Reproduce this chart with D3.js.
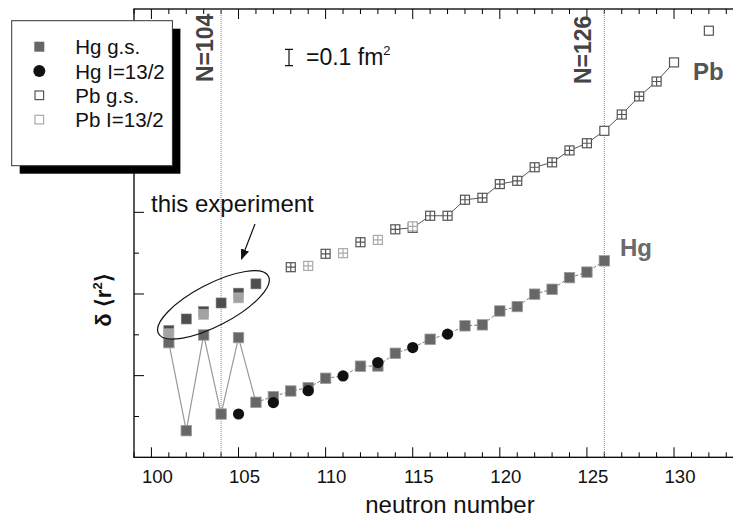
<!DOCTYPE html>
<meta charset="utf-8">
<head>
  <script src="https://d3js.org/d3.v7.min.js"></script>
  <style>
    body { margin: 0; background: #fff; }
    text { font-family: "Liberation Sans", Arial, sans-serif; }
  </style>
</head>
<body>
<div id="chart"></div>
<script>

// Hg ground states (gray squares)
var hgGsN  = [101,102,103,104,105,106,107,108,109,110,112,113,114,116,118,119,120,121,122,123,124,125,126];
var hgGsDr = [0.702,0.163,0.749,0.265,0.733,0.337,0.371,0.406,0.426,0.484,0.558,0.559,0.637,0.723,0.805,0.811,0.896,0.923,0.999,1.029,1.100,1.134,1.203];

// Hg I=13/2 isomers (black circles)
var hgIsoN  = [105,107,109,111,113,115,117];
var hgIsoDr = [0.265,0.335,0.408,0.498,0.580,0.672,0.754];

// Pb from this experiment (inside the ellipse)
var pbNewGsN  = [101,102,103,104,105,106];
var pbNewGsDr = [0.776,0.847,0.892,0.945,1.005,1.062];
var pbNewIsoN  = [101,103,105];
var pbNewIsoDr = [0.756,0.874,0.976];

// Pb ground states (open squares)
var pbGsN  = [108,110,112,114,115,116,117,118,119,120,121,122,123,124,125,126,127,128,129,130,132];
var pbGsDr = [1.164,1.246,1.317,1.396,1.405,1.479,1.479,1.577,1.589,1.673,1.693,1.776,1.806,1.879,1.923,1.999,2.099,2.210,2.301,2.418,2.612];
// Pb I=13/2 isomers (light open squares)
var pbIsoN  = [109,111,113,115];
var pbIsoDr = [1.172,1.250,1.331,1.414];
// Pb points drawn without inner error bars
var pbPlain = [126,130,132];

var xTicks = [100,105,110,115,120,125,130];

function zip(ns, vs) { return ns.map(function(n, i) { return {n: n, v: vs[i]}; }); }

var hgGs = zip(hgGsN, hgGsDr),
    hgIso = zip(hgIsoN, hgIsoDr),
    pbNewGs = zip(pbNewGsN, pbNewGsDr),
    pbNewIso = zip(pbNewIsoN, pbNewIsoDr),
    pbGs = zip(pbGsN, pbGsDr),
    pbIso = zip(pbIsoN, pbIsoDr);

var W = 733, H = 522;
var pLeft = 134, pTop = 9, pBottom = 457.3;

var svg = d3.select("#chart").append("svg")
  .attr("width", W).attr("height", H);

var x = d3.scaleLinear().domain([99, 134]).range([pLeft, pLeft + 35 * 17.42]);
var y = d3.scaleLinear().domain([0, 2.745]).range([pBottom, pTop]);

// frame
svg.append("rect")
  .attr("x", pLeft).attr("y", pTop)
  .attr("width", x(134) - pLeft).attr("height", pBottom - pTop)
  .attr("fill", "none").attr("stroke", "#000").attr("stroke-width", 1.3);

// x ticks bottom and top (inward)
var minorX = d3.range(99, 134);
svg.append("g").selectAll("line").data(minorX).join("line")
  .attr("x1", d => x(d)).attr("x2", d => x(d))
  .attr("y1", pBottom).attr("y2", d => pBottom - (d % 5 == 0 ? 10 : 5))
  .attr("stroke", "#000");
svg.append("g").selectAll("line").data(minorX).join("line")
  .attr("x1", d => x(d)).attr("x2", d => x(d))
  .attr("y1", pTop).attr("y2", d => pTop + (d % 5 == 0 ? 10 : 5))
  .attr("stroke", "#000");

svg.append("g").selectAll("text").data(xTicks).join("text")
  .attr("x", d => x(d) + 6).attr("y", 483)
  .attr("text-anchor", "middle")
  .attr("font-size", 18.6).attr("fill", "#111")
  .text(d => d);

// y ticks (no labels)
var yTickVals = d3.range(1, 11).map(d => d * 0.25);
svg.append("g").selectAll("line").data(yTickVals).join("line")
  .attr("x1", pLeft).attr("x2", (d, i) => pLeft + (i % 2 == 1 ? 10 : 5))
  .attr("y1", d => y(d)).attr("y2", d => y(d))
  .attr("stroke", "#000");

// shell closures
[104, 126].forEach(function(n) {
  svg.append("line")
    .attr("x1", x(n)).attr("x2", x(n))
    .attr("y1", pTop).attr("y2", pBottom)
    .attr("stroke", "#888").attr("stroke-width", 1)
    .attr("stroke-dasharray", "1,1");
});
svg.append("text")
  .attr("transform", "translate(" + (x(104) - 8.5) + ",82) rotate(-90)")
  .attr("font-size", 23).attr("font-weight", "bold").attr("fill", "#444")
  .text("N=104");
svg.append("text")
  .attr("transform", "translate(" + (x(126) - 13) + ",84) rotate(-90)")
  .attr("font-size", 23).attr("font-weight", "bold").attr("fill", "#444")
  .text("N=126");

// Hg line: g.s. where measured, else isomer
var hgLine = d3.range(101, 127).map(function(n) {
  var g = hgGs.find(d => d.n == n);
  var i = hgIso.find(d => d.n == n);
  return g || i;
}).filter(d => d);

var line = d3.line().x(d => x(d.n)).y(d => y(d.v));
svg.append("path").datum(hgLine.filter(d => d.n <= 106))
  .attr("d", line).attr("fill", "none")
  .attr("stroke", "#999").attr("stroke-width", 1.2);
svg.append("path").datum(hgLine.filter(d => d.n >= 106))
  .attr("d", line).attr("fill", "none")
  .attr("stroke", "#777").attr("stroke-width", 1)
  .attr("stroke-dasharray", "3,2");

// Pb line
svg.append("path").datum(pbGs.filter(d => d.n >= 114 && d.n <= 130))
  .attr("d", line).attr("fill", "none")
  .attr("stroke", "#555").attr("stroke-width", 1);

// Pb open squares
function pbSquares(data, color) {
  var g = svg.append("g").selectAll("g").data(data).join("g")
    .attr("transform", d => "translate(" + x(d.n) + "," + y(d.v) + ")");
  g.append("rect")
    .attr("x", -4.5).attr("y", -4.5).attr("width", 9).attr("height", 9)
    .attr("fill", "#fff").attr("stroke", color).attr("stroke-width", 1.2);
  g.filter(d => pbPlain.indexOf(d.n) < 0).append("path")
    .attr("d", "M-4.5,0H4.5M0,-4.5V4.5")
    .attr("stroke", color).attr("stroke-width", 1.2);
}
pbSquares(pbGs, "#555");
pbSquares(pbIso, "#aaa");

// Hg squares and circles
svg.append("g").selectAll("rect").data(hgGs).join("rect")
  .attr("x", d => x(d.n) - 5.2).attr("y", d => y(d.v) - 5.2)
  .attr("width", 10.4).attr("height", 10.4)
  .attr("fill", "#676767").attr("stroke", "#9a9a9a").attr("stroke-width", 0.8);
svg.append("g").selectAll("circle").data(hgIso).join("circle")
  .attr("cx", d => x(d.n)).attr("cy", d => y(d.v)).attr("r", 5.6)
  .attr("fill", "#111");

// this experiment
svg.append("g").selectAll("rect").data(pbNewGs).join("rect")
  .attr("x", d => x(d.n) - 5).attr("y", d => y(d.v) - 5)
  .attr("width", 10).attr("height", 10)
  .attr("fill", "#4e4e4e").attr("stroke", "#777").attr("stroke-width", 0.6);
svg.append("g").selectAll("rect").data(pbNewIso).join("rect")
  .attr("x", d => x(d.n) - 5).attr("y", d => y(d.v) - 5)
  .attr("width", 10).attr("height", 10)
  .attr("fill", "#a2a2a2").attr("stroke", "#bbb").attr("stroke-width", 0.6);

svg.append("ellipse")
  .attr("transform", "translate(" + x(103.56) + "," + y(0.933) + ") rotate(-27.5)")
  .attr("rx", 62).attr("ry", 21)
  .attr("fill", "none").attr("stroke", "#111").attr("stroke-width", 1.2);

svg.append("defs").append("marker")
  .attr("id", "head").attr("viewBox", "0 0 10 10")
  .attr("refX", 9).attr("refY", 5)
  .attr("markerWidth", 9).attr("markerHeight", 9)
  .attr("orient", "auto")
  .append("path").attr("d", "M0,1L10,5L0,9Z").attr("fill", "#111");
svg.append("line")
  .attr("x1", 255).attr("y1", 224).attr("x2", 241.5).attr("y2", 259)
  .attr("stroke", "#111").attr("stroke-width", 1.2)
  .attr("marker-end", "url(#head)");
svg.append("text")
  .attr("x", 151).attr("y", 212)
  .attr("font-size", 24).attr("fill", "#111")
  .text("this experiment");

// element labels
svg.append("text").attr("x", 693).attr("y", 80)
  .attr("font-size", 24).attr("font-weight", "bold").attr("fill", "#555")
  .text("Pb");
svg.append("text").attr("x", 620).attr("y", 256)
  .attr("font-size", 24).attr("font-weight", "bold").attr("fill", "#6a6a6a")
  .text("Hg");

// scale bar
var barTop = 49.3, barLen = y(0) - y(0.1);
svg.append("path")
  .attr("d", "M285," + barTop + "H293M289," + barTop + "V" + (barTop + barLen) + "M285," + (barTop + barLen) + "H293")
  .attr("stroke", "#111").attr("stroke-width", 1.2).attr("fill", "none");
var sb = svg.append("text").attr("x", 306).attr("y", 64.5)
  .attr("font-size", 23).attr("fill", "#111");
sb.append("tspan").text("=0.1 fm");
sb.append("tspan").attr("font-size", 13).attr("dy", -10).text("2");

// axis titles
svg.append("text")
  .attr("x", 450).attr("y", 513).attr("text-anchor", "middle")
  .attr("font-size", 24).attr("fill", "#111")
  .text("neutron number");
var yl = svg.append("text")
  .attr("transform", "translate(111,300) rotate(-90)")
  .attr("text-anchor", "middle")
  .attr("font-size", 22).attr("font-weight", "bold").attr("fill", "#111");
yl.append("tspan").text("δ ⟨r");
yl.append("tspan").attr("font-size", 13).attr("dy", -9).text("2");
yl.append("tspan").attr("dy", 9).text("⟩");

// legend
svg.append("rect").attr("x", 19.7).attr("y", 28.7)
  .attr("width", 160.7).attr("height", 145).attr("fill", "#000");
svg.append("rect").attr("x", 11.7).attr("y", 20.7)
  .attr("width", 160.7).attr("height", 145)
  .attr("fill", "#fff").attr("stroke", "#333").attr("stroke-width", 1);

var legendItems = ["Hg g.s.", "Hg I=13/2", "Pb g.s.", "Pb I=13/2"];
var lg = svg.append("g").selectAll("g").data(legendItems).join("g")
  .attr("transform", (d, i) => "translate(39.3," + (46.7 + i * 24.3) + ")");
lg.append("text").attr("x", 36).attr("y", 7.5)
  .attr("font-size", 20.5).attr("fill", "#111")
  .text(d => d);
lg.filter((d, i) => i == 0).append("rect")
  .attr("x", -5).attr("y", -5).attr("width", 10).attr("height", 10)
  .attr("fill", "#676767");
lg.filter((d, i) => i == 1).append("circle")
  .attr("r", 6).attr("fill", "#111");
lg.filter((d, i) => i >= 2).append("rect")
  .attr("x", -4.3).attr("y", -4.3).attr("width", 8.6).attr("height", 8.6)
  .attr("fill", "#fff").attr("stroke", (d, i) => i == 0 ? "#555" : "#aaa")
  .attr("stroke-width", 1.2);

</script>
</body>
